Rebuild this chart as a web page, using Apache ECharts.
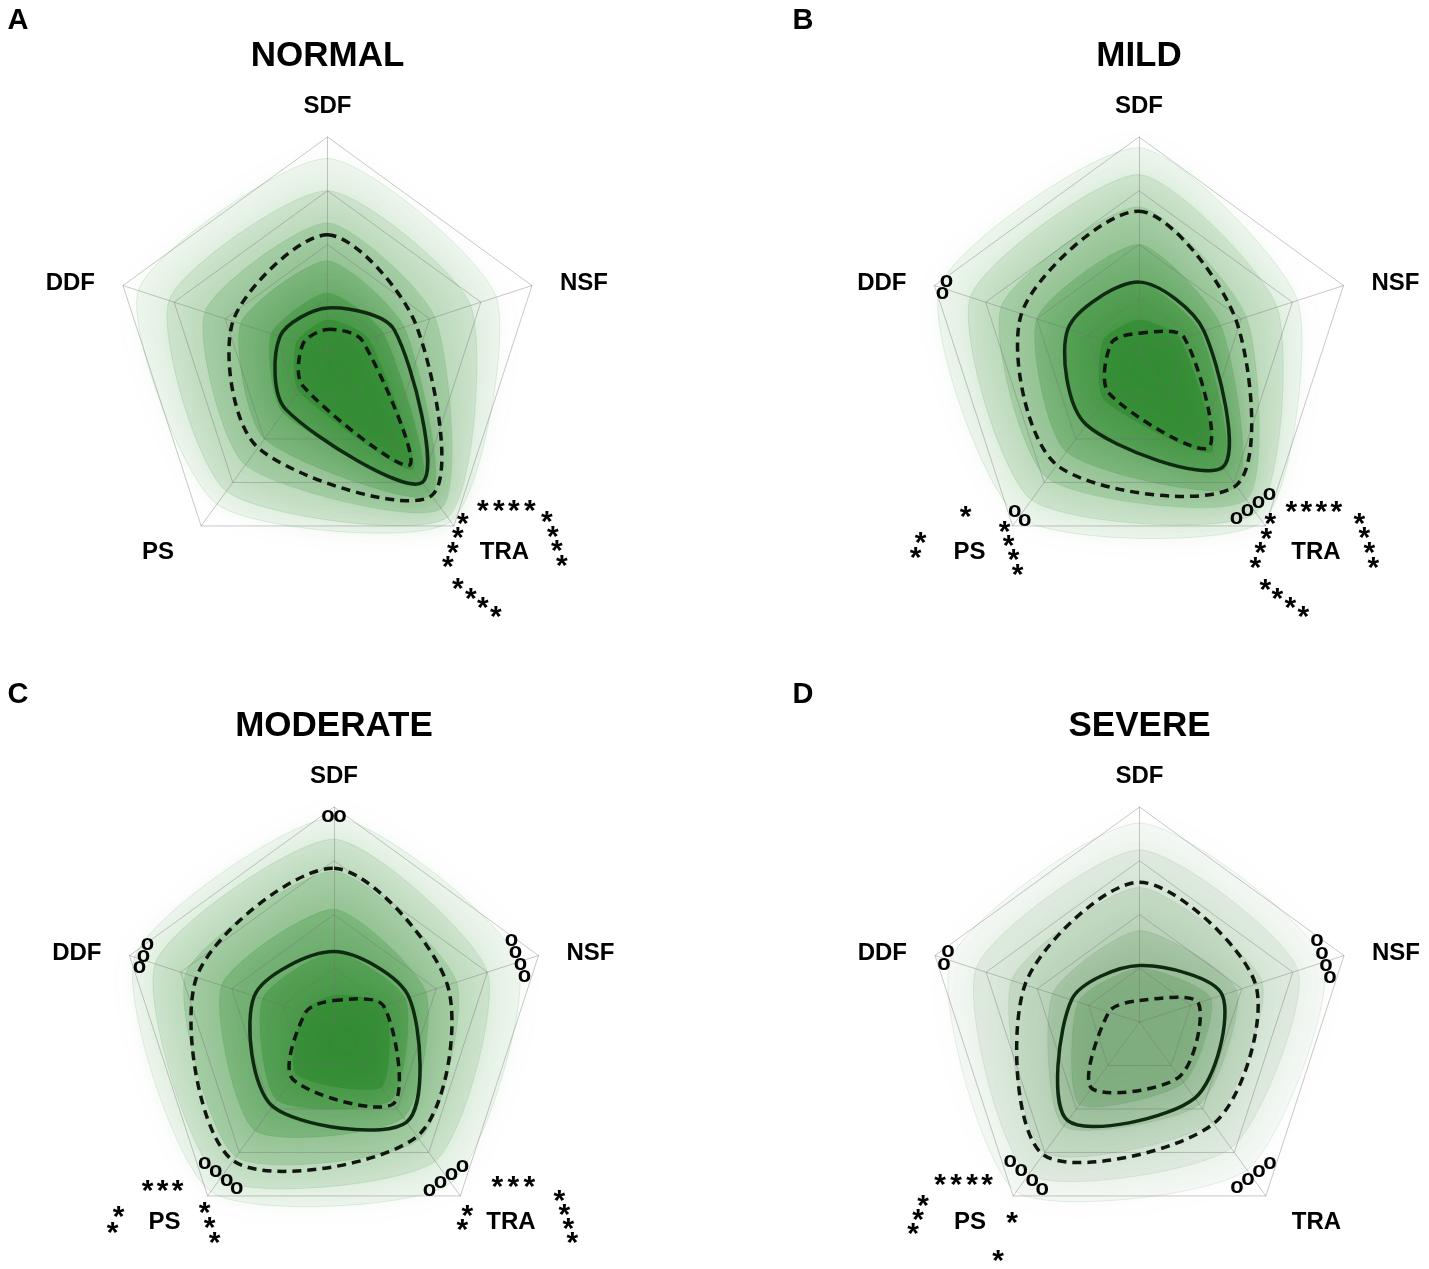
<!DOCTYPE html>
<html>
<head>
<meta charset="utf-8">
<script src="https://cdn.jsdelivr.net/npm/echarts@6/dist/echarts.min.js"></script>
<style>
  html, body { margin: 0; padding: 0; background: #fff; }
  #chart { width: 1429px; height: 1269px; }
</style>
</head>
<body>
<div id="chart"></div>
<script>
// axes, clockwise from the top
const axes = ['SDF', 'NSF', 'TRA', 'PS', 'DDF'];
const axisAngles = [0, 72, 144, 216, 288];
const panelNames = ['NORMAL', 'MILD', 'MODERATE', 'SEVERE'];
const panelLetters = ['A', 'B', 'C', 'D'];

// values in ring units (0 = centre, 4 = outer ring), order as axes
const medianA = [0.82, 1.31, 3.0, 1.32, 0.93];
const lowerA = [0.42, 0.68, 2.6, 0.78, 0.48];
const upperA = [2.18, 1.72, 3.3, 2.2, 1.85];

const medianB = [1.3, 1.27, 2.65, 1.67, 1.39];
const lowerB = [0.35, 0.88, 2.2, 0.95, 0.54];
const upperB = [2.62, 1.9, 3.07, 2.6, 2.3];

const medianC = [1.31, 1.47, 2.3, 1.94, 1.56];
const lowerC = [0.4, 0.97, 1.88, 1.31, 0.56];
const upperC = [2.86, 2.22, 2.63, 3.19, 2.69];

const medianD = [1.05, 1.62, 1.75, 2.27, 1.33];
const lowerD = [0.4, 1.15, 1.26, 1.52, 0.6];
const upperD = [2.6, 2.27, 2.34, 3.05, 2.24];

// density bands of the individual profiles, outer to inner
const cloudA = [
  [3.6, 3.3, 3.9, 3.5, 3.7],
  [3.0, 2.8, 3.8, 3.2, 3.1],
  [2.4, 2.1, 3.6, 2.6, 2.4],
  [1.7, 1.5, 3.3, 2.0, 1.7],
  [1.1, 1.1, 3.0, 1.4, 1.1],
  [0.6, 0.8, 2.7, 0.9, 0.6]
];
const cloudB = [
  [3.8, 3.1, 3.9, 3.8, 3.9],
  [3.3, 2.7, 3.7, 3.4, 3.3],
  [2.7, 2.1, 3.4, 2.9, 2.7],
  [2.0, 1.6, 3.1, 2.3, 2.0],
  [1.3, 1.2, 2.7, 1.7, 1.4],
  [0.6, 0.8, 2.3, 1.1, 0.7]
];
const cloudC = [
  [3.8, 3.6, 3.7, 3.9, 3.9],
  [3.4, 3.0, 3.2, 3.6, 3.5],
  [2.8, 2.4, 2.7, 3.1, 2.9],
  [2.1, 1.8, 2.2, 2.5, 2.2],
  [1.3, 1.4, 1.8, 1.8, 1.4],
  [0.5, 1.0, 1.5, 1.2, 0.6]
];
const cloudD = [
  [3.7, 3.6, 3.4, 3.9, 3.7],
  [3.2, 3.1, 2.9, 3.5, 3.2],
  [2.5, 2.4, 2.3, 3.0, 2.5],
  [1.7, 1.9, 1.9, 2.4, 1.7],
  [1.0, 1.4, 1.4, 1.9, 1.2]
];

// significance marks: [axis, glyph, offsets from the axis tip]
const marksA = [
  ['TRA', '*', [[29, -21], [45, -21], [60, -21], [76, -21]]],
  ['TRA', '*', [[9, -8], [4, 6], [-1, 21], [-6, 35]]],
  ['TRA', '*', [[93, -10], [99, 5], [103, 19], [108, 34]]],
  ['TRA', '*', [[4, 57], [17, 67], [29, 76], [42, 85]]]
];
const marksB = [
  ['DDF', 'o', [[12, -3], [8, 9]]],
  ['PS', '*', [[-47, -15]]],
  ['PS', '*', [[-92, 11], [-97, 26]]],
  ['PS', '*', [[-8, 0], [-4, 14], [1, 28], [5, 43]]],
  ['PS', 'o', [[2, -13], [12, -4]]],
  ['TRA', 'o', [[-29, -6], [-18, -14], [-7, -22], [4, -30]]],
  ['TRA', '*', [[26, -20], [41, -20], [56, -20], [71, -20]]],
  ['TRA', '*', [[5, -8], [1, 7], [-5, 21], [-10, 36]]],
  ['TRA', '*', [[94, -8], [99, 6], [104, 21], [108, 36]]],
  ['TRA', '*', [[0, 58], [12, 67], [25, 76], [38, 85]]]
];
const marksC = [
  ['SDF', 'o', [[-6, 11], [6, 11]]],
  ['DDF', 'o', [[18, -10], [14, 2], [10, 13]]],
  ['NSF', 'o', [[-27, -14], [-23, -2], [-18, 10], [-14, 22]]],
  ['PS', '*', [[-60, -11], [-45, -11], [-30, -11]]],
  ['PS', '*', [[-89, 15], [-95, 31]]],
  ['PS', '*', [[-3, 11], [2, 26], [7, 41]]],
  ['PS', 'o', [[-3, -31], [8, -23], [19, -14], [29, -6]]],
  ['TRA', 'o', [[-31, -4], [-20, -12], [-9, -20], [2, -28]]],
  ['TRA', '*', [[37, -15], [53, -15], [69, -15]]],
  ['TRA', '*', [[7, 14], [2, 28]]],
  ['TRA', '*', [[99, -1], [104, 13], [108, 27], [112, 41]]]
];
const marksD = [
  ['DDF', 'o', [[13, -3], [9, 10]]],
  ['NSF', 'o', [[-27, -14], [-22, -1], [-18, 11], [-14, 23]]],
  ['PS', '*', [[-73, -17], [-57, -17], [-41, -17], [-26, -17]]],
  ['PS', '*', [[-90, 4], [-95, 18], [-100, 32]]],
  ['PS', '*', [[-1, 21]]],
  ['PS', '*', [[-15, 59]]],
  ['PS', 'o', [[-3, -33], [8, -24], [19, -14], [29, -5]]],
  ['TRA', 'o', [[-29, -7], [-18, -15], [-7, -23], [4, -31]]]
];

const panels = [
  { median: medianA, lower: lowerA, upper: upperA, cloud: cloudA, marks: marksA },
  { median: medianB, lower: lowerB, upper: upperB, cloud: cloudB, marks: marksB },
  { median: medianC, lower: lowerC, upper: upperC, cloud: cloudC, marks: marksC },
  { median: medianD, lower: lowerD, upper: upperD, cloud: cloudD, marks: marksD }
];

// layout
const R = 215;
const centers = [[327.5, 352], [1139, 352], [334, 1022], [1139.5, 1022]];
const letterPos = [[18, 21], [803, 21], [18, 695], [803, 695]];
const labelOffset = {
  SDF: [0, -30.5, 'center'],
  NSF: [28, -2.5, 'left'],
  TRA: [26, 26, 'left'],
  PS: [-27, 26, 'right'],
  DDF: [-28, -2.5, 'right']
};
const cloudAlpha = [0.06, 0.1, 0.14, 0.2, 0.28, 0.38];
const cloudRGB = ['30,128,30', '30,128,30', '30,128,30', '60,128,60'];
const cloudScale = [1, 1, 1, 0.72];
const FONT = '"Liberation Sans", Arial, sans-serif';

function tip(p, k) {
  const a = (90 - axisAngles[k]) * Math.PI / 180;
  return [centers[p][0] + R * Math.cos(a), centers[p][1] - R * Math.sin(a)];
}

function loopRenderer(style, smooth) {
  return function (params, api) {
    if (params.dataIndexInside !== 0) return null;
    const pts = [];
    for (let i = 0; i < params.dataInsideLength; i++) {
      pts.push(api.coord([api.value(0, i), api.value(1, i)]));
    }
    return { type: 'polygon', silent: true, shape: { points: pts, smooth: smooth }, style: style };
  };
}

const toData = (vals) => vals.map((v, i) => [v, axisAngles[i]]);

let radar = [], polar = [], angleAxis = [], radiusAxis = [], series = [], graphic = [];

panels.forEach((pd, p) => {
  radar.push({
    center: centers[p],
    radius: R,
    shape: 'polygon',
    splitNumber: 4,
    z: 3,
    // radar places indicators counter-clockwise
    indicator: ['SDF', 'DDF', 'PS', 'TRA', 'NSF'].map(n => ({ name: n, min: 0, max: 4 })),
    axisName: { show: false },
    axisLine: { lineStyle: { color: 'rgba(110,110,110,0.38)', width: 1 } },
    splitLine: { lineStyle: { color: 'rgba(110,110,110,0.38)', width: 1 } },
    splitArea: { show: false }
  });
  polar.push({ center: centers[p], radius: R });
  angleAxis.push({ polarIndex: p, type: 'value', min: 0, max: 360, startAngle: 90, clockwise: true, show: false });
  radiusAxis.push({ polarIndex: p, type: 'value', min: 0, max: 4, show: false });

  pd.cloud.forEach((vals, j) => {
    const rgb = cloudRGB[p];
    series.push({
      type: 'custom', coordinateSystem: 'polar', polarIndex: p, z: 1, silent: true,
      data: toData(vals),
      renderItem: loopRenderer({
        fill: 'rgba(' + rgb + ',' + (cloudAlpha[j] * cloudScale[p]) + ')',
        stroke: 'rgba(' + rgb + ',0.12)', lineWidth: 1,
        shadowBlur: 30, shadowColor: 'rgba(' + rgb + ',0.7)'
      }, 0.22)
    });
  });
  series.push({
    type: 'custom', coordinateSystem: 'polar', polarIndex: p, z: 5, silent: true,
    data: toData(pd.median),
    renderItem: loopRenderer({ fill: 'none', stroke: '#0e2a10', lineWidth: 3.5 }, 0.3)
  });
  [pd.lower, pd.upper].forEach(vals => {
    series.push({
      type: 'custom', coordinateSystem: 'polar', polarIndex: p, z: 5, silent: true,
      data: toData(vals),
      renderItem: loopRenderer({ fill: 'none', stroke: '#111611', lineWidth: 3.5, lineDash: [9, 6] }, 0.3)
    });
  });

  // titles and letters
  graphic.push({
    type: 'text', x: letterPos[p][0], y: letterPos[p][1], z: 10,
    style: { text: panelLetters[p], font: 'bold 29px ' + FONT, fill: '#000', textAlign: 'center', textVerticalAlign: 'middle' }
  });
  graphic.push({
    type: 'text', x: centers[p][0], y: centers[p][1] - 296, z: 10,
    style: { text: panelNames[p], font: 'bold 35px ' + FONT, fill: '#000', textAlign: 'center', textVerticalAlign: 'middle' }
  });
  // axis names
  axes.forEach((name, k) => {
    const t = tip(p, k), off = labelOffset[name];
    graphic.push({
      type: 'text', x: t[0] + off[0], y: t[1] + off[1], z: 10,
      style: { text: name, font: 'bold 24px ' + FONT, fill: '#000', textAlign: off[2], textVerticalAlign: 'middle' }
    });
  });
  // significance marks
  pd.marks.forEach(([name, glyph, offs]) => {
    const t = tip(p, axes.indexOf(name));
    offs.forEach(([dx, dy]) => {
      const star = glyph === '*';
      graphic.push({
        type: 'text', x: t[0] + dx, y: t[1] + dy + (star ? 7 : -1.8), z: 10,
        style: {
          text: glyph, font: star ? 'bold 30px ' + FONT : 'bold 22px ' + FONT,
          fill: '#000', textAlign: 'center', textVerticalAlign: 'middle'
        }
      });
    });
  });
});

const chart = echarts.init(document.getElementById('chart'));
chart.setOption({
  backgroundColor: '#fff',
  animation: false,
  radar: radar,
  polar: polar,
  angleAxis: angleAxis,
  radiusAxis: radiusAxis,
  series: series,
  graphic: graphic
});
</script>
</body>
</html>
